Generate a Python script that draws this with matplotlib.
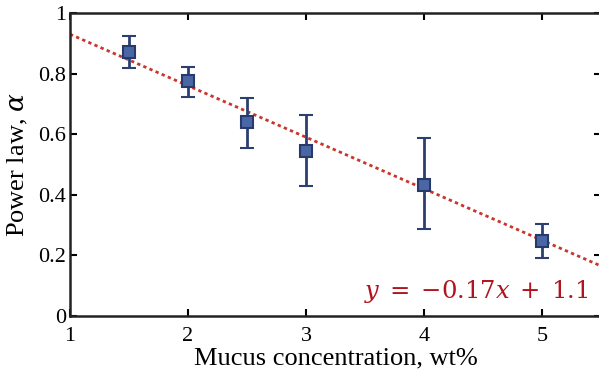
import numpy as np
import matplotlib.pyplot as plt

plt.rcParams['font.family'] = ['Liberation Serif', 'DejaVu Serif']
plt.rcParams['mathtext.fontset'] = 'dejavuserif'

# data
conc = [1.5, 2.0, 2.5, 3.0, 4.0, 5.0]
alpha = [0.871, 0.775, 0.640, 0.543, 0.432, 0.248]
err_lo = [0.053, 0.052, 0.084, 0.115, 0.145, 0.057]
err_hi = [0.053, 0.047, 0.081, 0.120, 0.157, 0.056]
slope, intercept = -0.17, 1.1
xticks = [1, 2, 3, 4, 5]
yticks = [0, 0.2, 0.4, 0.6, 0.8, 1]
ytick_labels = ['0', '0.2', '0.4', '0.6', '0.8', '1']

fig = plt.figure(figsize=(5.99, 3.8), dpi=100)
ax = fig.add_axes([70/599, 64/380, 531/599, 303/380])

xfit = np.array([1, 5.5])
ax.plot(xfit, slope*xfit + intercept, color='#c8372d', lw=2,
        linestyle=(0, (1.2, 1.2)), zorder=2)

ax.errorbar(conc, alpha, yerr=[err_lo, err_hi], fmt='s', ms=9,
            mfc='#4a67a5', mec='#283a6b', mew=1.5, ecolor='#2c3f70',
            elinewidth=2, capsize=5, capthick=2, zorder=3)

ax.text(5.39, 0.125, r'$y\;=\;{-}0.17x\;+\;1.1$', color='#b0141c', fontsize=17.5,
        ha='right', va='top')

ax.set_xlim(1, 5.5)
ax.set_ylim(0, 1)
ax.set_xticks(xticks)
ax.set_yticks(yticks)
ax.set_yticklabels(ytick_labels)
ax.tick_params(direction='in', top=True, right=True, labelsize=16,
               width=1.5, length=5)
ax.tick_params(axis='x', pad=8)
ax.tick_params(axis='y', pad=3)
for s in ax.spines.values():
    s.set_linewidth(1.8)
    s.set_color('#222222')

ax.set_xlabel('Mucus concentration, wt%', fontsize=19, labelpad=1)
ax.set_ylabel(r'Power law, $\alpha$', fontsize=19, labelpad=6)

fig.savefig('out.png', dpi=100)
